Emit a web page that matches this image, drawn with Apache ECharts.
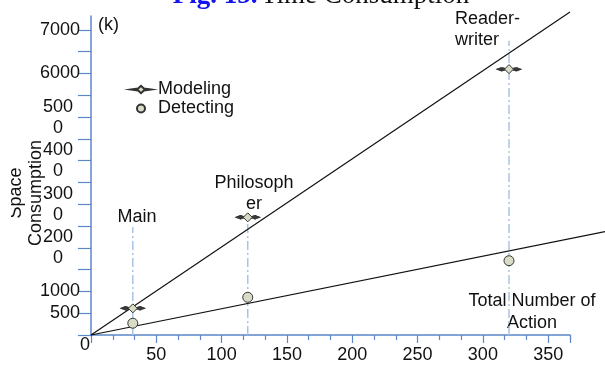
<!DOCTYPE html>
<html>
<head>
<meta charset="utf-8">
<script src="https://cdn.jsdelivr.net/npm/echarts@6/dist/echarts.min.js"></script>
<style>
html,body{margin:0;padding:0;background:#fff;}
#c{width:605px;height:365px;}
</style>
</head>
<body>
<div id="c"></div>
<script>
// ---- data ----
const programs = ['Main', 'Philosopher', 'Reader-writer'];
const actions = [32, 120, 320];               // total number of action
const modeling = [612, 2700, 6100];           // space consumption (k)
const detecting = [270, 865, 1705];
const guideTop = [2480, 2600, 6750];          // top of dash-dot guide lines
const fitModeling = [[0, 0], [366.7, 7410]];  // trend line
const fitDetecting = [[0, 0], [393.6, 2374]]; // trend line
const yLabelValues = [500, 1000, 2000, 3000, 4000, 5000, 6000, 7000];
const yLabelTexts = ['500', '1000', '200\n0', '300\n0', '400\n0', '500\n0', '6000', '7000'];
const xLabelValues = [0, 50, 100, 150, 200, 250, 300, 350];

const AX = '#5b87c8';
const SANS = '"Liberation Sans", Arial, sans-serif';
const SERIF = '"Liberation Serif", "Times New Roman", serif';
const FILL = '#d8dbc5';
const EDGE = '#333';
const starPath = 'path://M-12,0 L-3.5,-1.2 L0,-4.5 L3.5,-1.2 L12,0 L3.5,1.2 L0,4.5 L-3.5,1.2 Z';
const armsPath = 'path://M-12,0 L-7,-1.6 L-3,-0.6 L3,-0.6 L7,-1.6 L12,0 L7,1.6 L3,0.6 L-3,0.6 L-7,1.6 Z';

const chart = echarts.init(document.getElementById('c'), null, {renderer: 'canvas'});

const guideSeries = actions.map((x, i) => ({
  type: 'line',
  name: 'guide' + i,
  data: [[x, 0], [x, guideTop[i]]],
  symbol: 'none',
  silent: true,
  z: 1,
  lineStyle: {color: '#a9c3e6', width: 1.5, type: [9, 3, 2, 3]}
}));

chart.setOption({
  animation: false,
  grid: [
    {left: 91, right: 35, top: 16, bottom: 30, containLabel: false},
    {left: 91, right: 0, top: 16, bottom: 30, containLabel: false}
  ],
  legend: {
    orient: 'vertical',
    left: 125,
    top: 75,
    itemGap: 0,
    itemWidth: 20,
    itemHeight: 8,
    data: [
      {name: 'Modeling', icon: starPath},
      {name: 'Detecting', icon: 'circle'}
    ],
    textStyle: {fontFamily: SANS, fontSize: 18, color: '#111', lineHeight: 19, padding: [0, 0, 0, 2]}
  },
  xAxis: [{
    type: 'value',
    gridIndex: 0,
    min: 0,
    max: 366.7,
    interval: 50,
    splitLine: {show: false},
    axisLine: {lineStyle: {color: AX, width: 1.5}},
    axisTick: {show: true, length: 8, lineStyle: {color: AX, width: 1.2}},
    minorTick: {show: true, splitNumber: 3, length: 5, lineStyle: {color: AX, width: 1.2}},
    minorSplitLine: {show: false},
    name: 'Total Number of\nAction',
    nameLocation: 'end',
    nameGap: -38,
    nameTextStyle: {fontFamily: SANS, fontSize: 18, color: '#111', align: 'center', verticalAlign: 'bottom', lineHeight: 22, padding: [0, 0, 1, 0]},
    axisLabel: {
      fontFamily: SANS, fontSize: 18, color: '#111',
      margin: 20,
      verticalAlign: 'middle',
      showMinLabel: true,
      showMaxLabel: false,
      formatter: v => {
        if (xLabelValues.indexOf(v) < 0) return '';
        return v === 0 ? '{z|0}' : String(v);
      },
      rich: {z: {fontFamily: SANS, fontSize: 18, color: '#111', padding: [0, 12, 20, 0]}}
    }
  }, {
    type: 'value', gridIndex: 1, min: 0, max: 393.6, show: false,
    splitLine: {show: false}
  }],
  yAxis: [{
    type: 'value',
    gridIndex: 0,
    min: 0,
    max: 7320,
    interval: 500,
    splitLine: {show: false},
    axisLine: {show: true, lineStyle: {color: AX, width: 1.5}},
    axisTick: {show: true, length: 13, lineStyle: {color: AX, width: 1.2}},
    name: '(k)',
    nameLocation: 'end',
    nameGap: -9,
    nameTextStyle: {fontFamily: SANS, fontSize: 18, color: '#111', align: 'left', verticalAlign: 'middle', padding: [0, 0, 0, 7]},
    axisLabel: {
      fontFamily: SANS, fontSize: 18, color: '#111',
      margin: 11,
      showMaxLabel: false,
      formatter: v => {
        const k = yLabelValues.indexOf(v);
        if (k < 0) return '';
        const t = yLabelTexts[k];
        if (t.indexOf('\n') >= 0) {
          return t.split('\n').map(s => '{m|' + s + '}').join('\n');
        }
        return t;
      },
      rich: {m: {fontFamily: SANS, fontSize: 18, color: '#111', width: 30, align: 'center', lineHeight: 21, padding: [0, 7, 0, 0]}}
    }
  }, {
    type: 'value', gridIndex: 1, min: 0, max: 7320, show: false,
    splitLine: {show: false}
  }],
  series: guideSeries.concat([
    {
      type: 'line', name: 'fitM', data: fitModeling, symbol: 'none', clip: false, silent: true, z: 2,
      lineStyle: {color: '#111', width: 1.2}
    },
    {
      type: 'line', name: 'fitD', data: fitDetecting, symbol: 'none', clip: false, silent: true, z: 2,
      xAxisIndex: 1, yAxisIndex: 1,
      lineStyle: {color: '#111', width: 1.2}
    },
    {
      type: 'scatter', name: 'ModelingArms', z: 4, silent: true,
      data: actions.map((x, i) => [x, modeling[i]]),
      symbol: armsPath, symbolSize: [25, 4],
      itemStyle: {color: '#3a3a3a', borderColor: '#222', borderWidth: 0.6, opacity: 1}
    },
    {
      type: 'scatter', name: 'Modeling', z: 5,
      data: actions.map((x, i) => [x, modeling[i]]),
      symbol: 'diamond', symbolSize: [9, 9],
      itemStyle: {color: FILL, borderColor: EDGE, borderWidth: 1, opacity: 1}
    },
    {
      type: 'scatter', name: 'Detecting', z: 5,
      data: actions.map((x, i) => [x, detecting[i]]),
      symbol: 'circle', symbolSize: 10,
      itemStyle: {color: FILL, borderColor: EDGE, borderWidth: 1, opacity: 1}
    }
  ]),
  graphic: [
    {
      type: 'text', silent: true,
      x: 321, y: -4.2,
      style: {
        text: '{b|Fig. 15.} {n|Time Consumption}',
        align: 'center', verticalAlign: 'middle',
        rich: {
          b: {fontFamily: SERIF, fontSize: 27, fontWeight: 'bold', fill: '#1414f0'},
          n: {fontFamily: SERIF, fontSize: 27, fill: '#111'}
        }
      }
    },
    {
      type: 'text', silent: true, x: 26, y: 193, rotation: Math.PI / 2,
      style: {text: 'Space\nConsumption', align: 'center', verticalAlign: 'middle', fontFamily: SANS, fontSize: 18, lineHeight: 20, fill: '#111'}
    },
    {
      type: 'rect', silent: true, shape: {x: 0, y: 160, width: 11, height: 60}, style: {fill: '#fff'}
    },
    {
      type: 'text', silent: true, x: 137, y: 217,
      style: {text: programs[0], align: 'center', verticalAlign: 'middle', fontFamily: SANS, fontSize: 18, fill: '#111'}
    },
    {
      type: 'text', silent: true, x: 254, y: 194,
      style: {text: 'Philosoph\ner', align: 'center', verticalAlign: 'middle', fontFamily: SANS, fontSize: 18, lineHeight: 21, fill: '#111'}
    },
    {
      type: 'text', silent: true, x: 455, y: 30,
      style: {text: 'Reader-\nwriter', align: 'left', verticalAlign: 'middle', fontFamily: SANS, fontSize: 18, lineHeight: 21, fill: '#111'}
    }
  ]
});
</script>
</body>
</html>
